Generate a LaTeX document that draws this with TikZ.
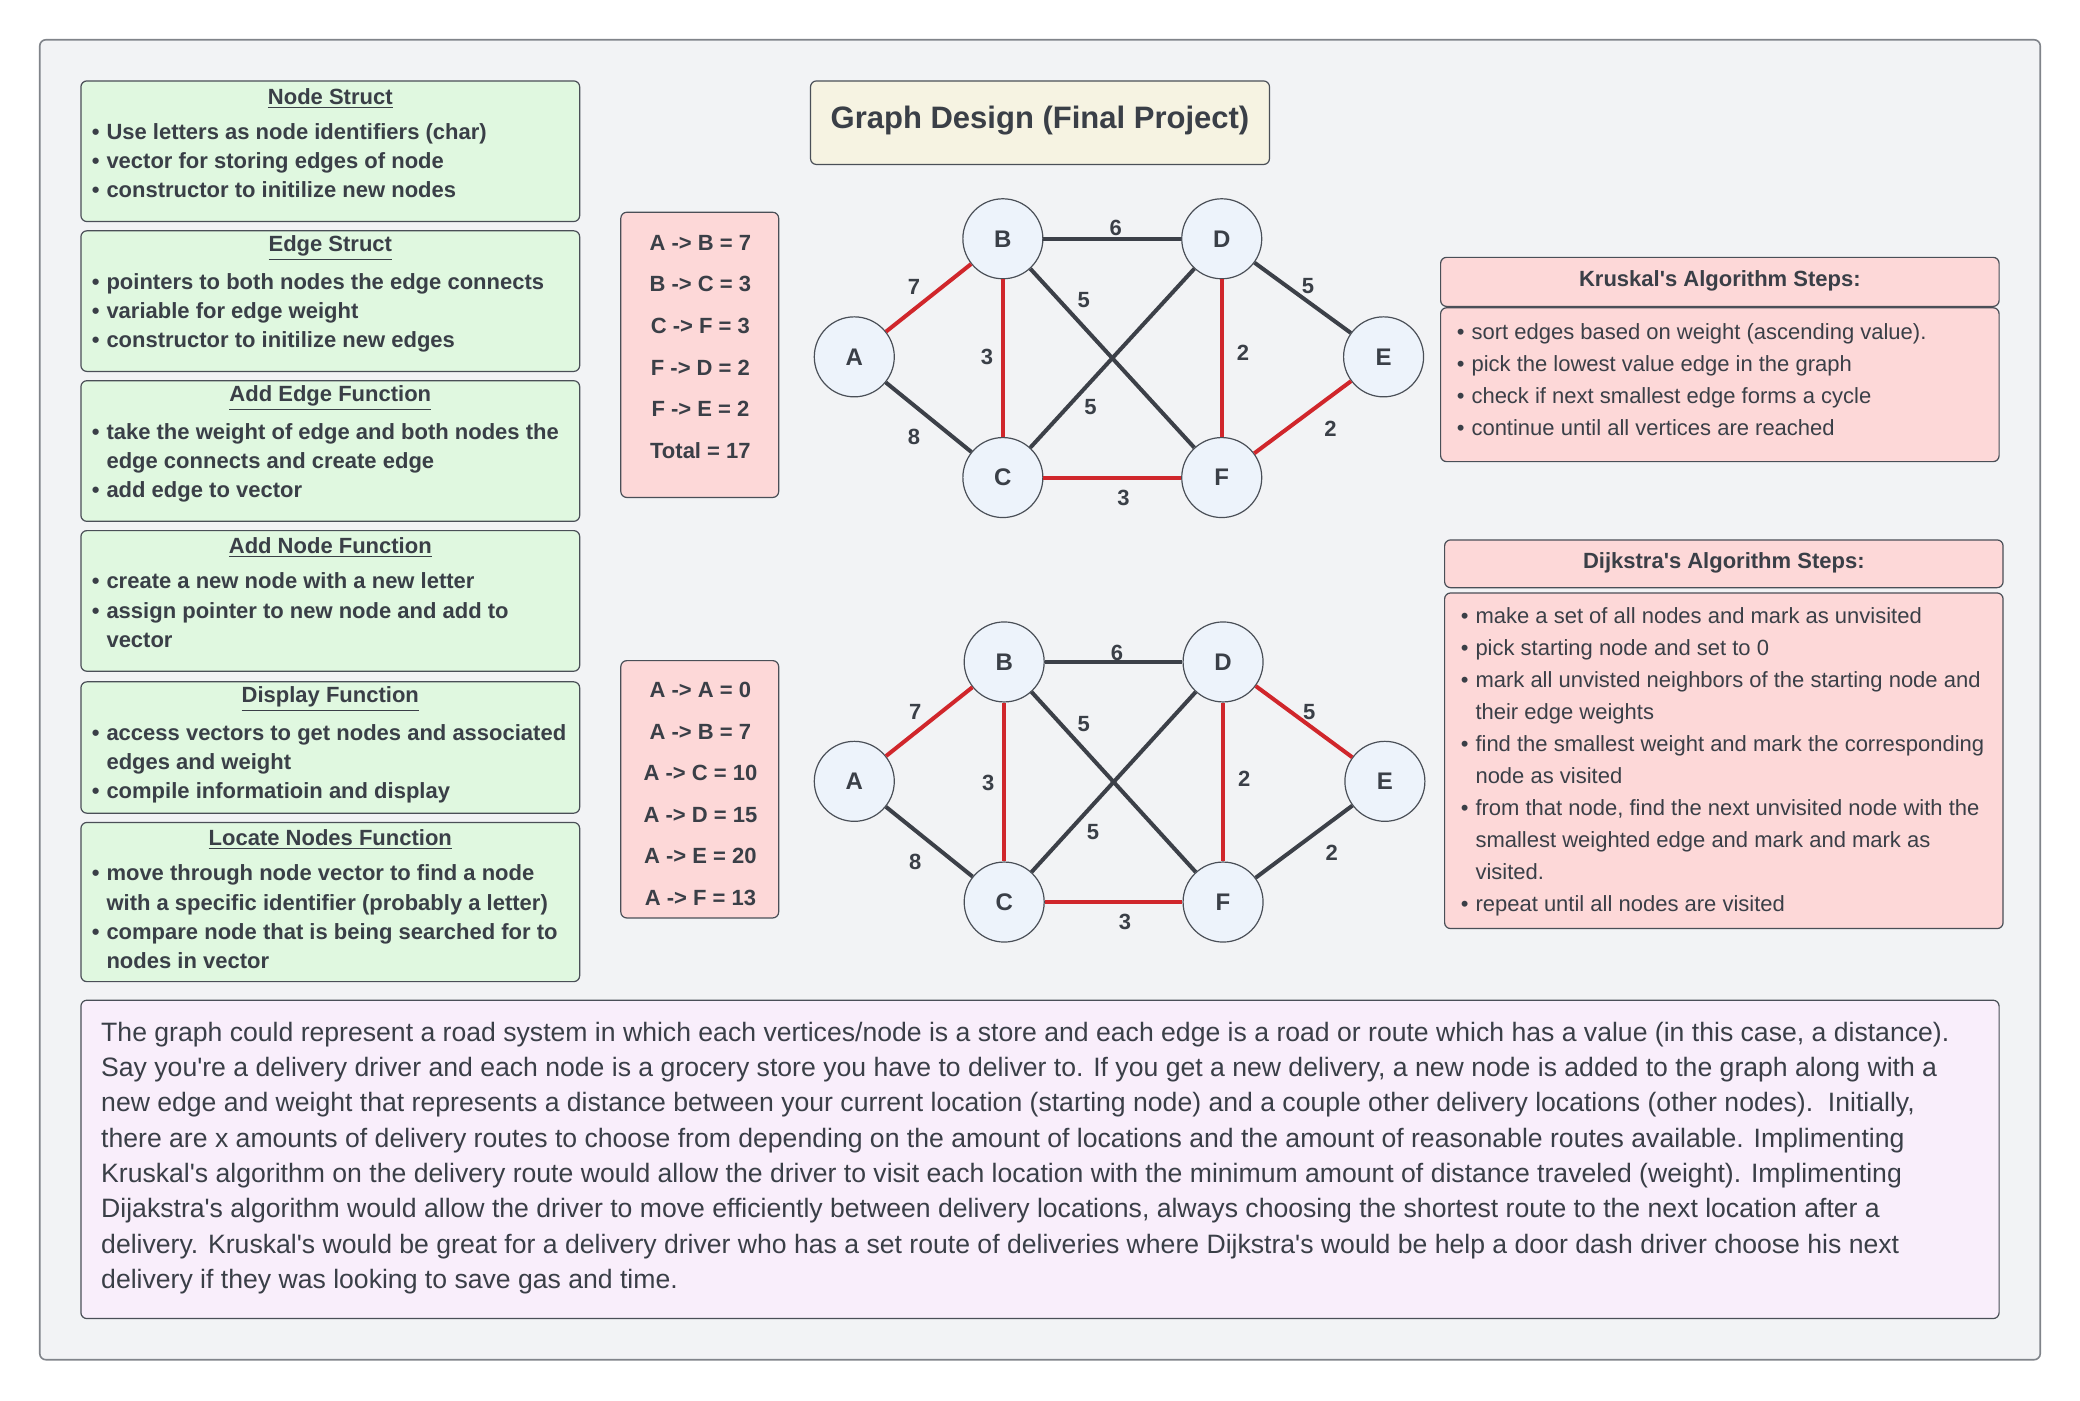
\documentclass[tikz,border=0pt]{standalone}
\usepackage{fontspec}
\setmainfont{Liberation Sans}
\definecolor{frameBg}{HTML}{F2F3F5}
\definecolor{frameLine}{HTML}{80848A}
\definecolor{greenFill}{HTML}{E0F8E0}
\definecolor{pinkFill}{HTML}{FDD8D8}
\definecolor{creamFill}{HTML}{F6F3E2}
\definecolor{lavFill}{HTML}{F9EEFB}
\definecolor{nodeFill}{HTML}{EDF3FB}
\definecolor{edgeRed}{HTML}{D0262B}
\definecolor{edgeDark}{HTML}{3C4048}
\definecolor{txt}{HTML}{3A3F47}
\definecolor{boxLine}{HTML}{4A4F57}
\newcommand{\bl}{\makebox[7.3pt][l]{\textbullet}}
\newcommand{\cl}{\hspace*{7.3pt}}
\newcommand{\aq}{\textquotesingle}
\tikzset{
  greenbox/.style={draw=boxLine, line width=0.6pt, fill=greenFill, rounded corners=3pt},
  pinkbox/.style={draw=boxLine, line width=0.6pt, fill=pinkFill, rounded corners=3pt},
  creambox/.style={draw=boxLine, line width=0.6pt, fill=creamFill, rounded corners=3pt},
  lavbox/.style={draw=boxLine, line width=0.6pt, fill=lavFill, rounded corners=3pt},
  btitle/.style={font=\fontsize{11}{13}\selectfont\bfseries, text=txt, inner sep=0pt},
  blist/.style={font=\fontsize{11}{14.6}\selectfont\bfseries, text=txt, inner sep=0pt, anchor=base west},
  rlist/.style={font=\fontsize{11}{16}\selectfont, text=txt, inner sep=0pt, anchor=base west},
  tbl/.style={font=\fontsize{11}{20.8}\selectfont\bfseries, text=txt, inner sep=0pt, align=center},
  vtx/.style={circle, draw=boxLine, line width=0.6pt, fill=nodeFill, minimum size=40pt, inner sep=0pt, font=\fontsize{12}{14}\selectfont\bfseries, text=txt},
  redge/.style={draw=edgeRed, line width=2pt},
  dedge/.style={draw=edgeDark, line width=2pt},
  wlbl/.style={font=\fontsize{11}{13}\selectfont\bfseries, text=txt, inner sep=0pt},
}
\begin{document}
\begin{tikzpicture}[x=0.66327pt, y=-0.66327pt]
\useasboundingbox (0,0) rectangle (1568,1055.4);
\fill[white] (0,0) rectangle (1568,1055.4);
\draw[draw=frameLine, fill=frameBg, line width=0.8pt, rounded corners=3pt] (30,30) rectangle (1538,1025);

% ---------- left green boxes ----------
\path[greenbox] (61,61) rectangle (437,167);
\node[btitle] (t1) at (249,74) {\underline{Node Struct}};
\node[blist] (l1) at (69,105) {\begin{tabular}[t]{@{}l@{}}\bl Use letters as node identifiers (char)\\ \bl vector for storing edges of node\\ \bl constructor to initilize new nodes\end{tabular}};

\path[greenbox] (61,174) rectangle (437,280);
\node[btitle] (t2) at (249,187) {\underline{Edge Struct}};
\node[blist] (l2) at (69,218) {\begin{tabular}[t]{@{}l@{}}\bl pointers to both nodes the edge connects\\ \bl variable for edge weight\\ \bl constructor to initilize new edges\end{tabular}};

\path[greenbox] (61,287) rectangle (437,393);
\node[btitle] (t3) at (249,300) {\underline{Add Edge Function}};
\node[blist] (l3) at (69,331) {\begin{tabular}[t]{@{}l@{}}\bl take the weight of edge and both nodes the\\ \cl edge connects and create edge\\ \bl add edge to vector\end{tabular}};

\path[greenbox] (61,400) rectangle (437,506);
\node[btitle] (t4) at (249,413) {\underline{Add Node Function}};
\node[blist] (l4) at (69,444) {\begin{tabular}[t]{@{}l@{}}\bl create a new node with a new letter\\ \bl assign pointer to new node and add to\\ \cl vector\end{tabular}};

\path[greenbox] (61,514) rectangle (437,613);
\node[btitle] (t5) at (249,527) {\underline{Display Function}};
\node[blist] (l5) at (69,558) {\begin{tabular}[t]{@{}l@{}}\bl access vectors to get nodes and associated\\ \cl edges and weight\\ \bl compile informatioin and display\end{tabular}};

\path[greenbox] (61,620) rectangle (437,740);
\node[btitle] (t6) at (249,633) {\underline{Locate Nodes Function}};
\node[blist] (l6) at (69,664) {\begin{tabular}[t]{@{}l@{}}\bl move through node vector to find a node\\ \cl with a specific identifier (probably a letter)\\ \bl compare node that is being searched for to\\ \cl nodes in vector\end{tabular}};

% ---------- tables ----------
\path[pinkbox] (468,160) rectangle (587,375);
\node[tbl] (tab1) at (528,261.5) {A -> B = 7\\ B -> C = 3\\ C -> F = 3\\ F -> D = 2\\ F -> E = 2\\ Total = 17};

\path[pinkbox] (468,498) rectangle (587,692);
\node[tbl] (tab2) at (528,598.5) {A -> A = 0\\ A -> B = 7\\ A -> C = 10\\ A -> D = 15\\ A -> E = 20\\ A -> F = 13};

% ---------- title ----------
\path[creambox] (611,61) rectangle (957,124);
\node[font=\fontsize{15.5}{18}\selectfont\bfseries, text=txt] (title) at (784,91) {Graph Design (Final Project)};

% ---------- graph 1 (Kruskal) ----------
\node[vtx] (A1) at (644,269) {A};
\node[vtx] (B1) at (756,180) {B};
\node[vtx] (D1) at (921,180) {D};
\node[vtx] (C1) at (756,360) {C};
\node[vtx] (F1) at (921,360) {F};
\node[vtx] (E1) at (1043,269) {E};
\draw[redge] (A1) -- (B1);
\draw[dedge] (A1) -- (C1);
\draw[dedge] (B1) -- (D1);
\draw[redge] (B1) -- (C1);
\draw[dedge] (B1) -- (F1);
\draw[dedge] (C1) -- (D1);
\draw[redge] (D1) -- (F1);
\draw[dedge] (D1) -- (E1);
\draw[redge] (C1) -- (F1);
\draw[redge] (F1) -- (E1);
\node[wlbl] (w1a) at (689,216) {7};
\node[wlbl] (w1b) at (689,329) {8};
\node[wlbl] (w1c) at (841,172) {6};
\node[wlbl] (w1d) at (744,269) {3};
\node[wlbl] (w1e) at (817,226) {5};
\node[wlbl] (w1f) at (822,307) {5};
\node[wlbl] (w1g) at (937,266) {2};
\node[wlbl] (w1h) at (986,216) {5};
\node[wlbl] (w1i) at (1003,323) {2};
\node[wlbl] (w1j) at (847,375) {3};

% ---------- graph 2 (Dijkstra) ----------
\node[vtx] (A2) at (644,589) {A};
\node[vtx] (B2) at (757,499) {B};
\node[vtx] (D2) at (922,499) {D};
\node[vtx] (C2) at (757,680) {C};
\node[vtx] (F2) at (922,680) {F};
\node[vtx] (E2) at (1044,589) {E};
\draw[redge] (A2) -- (B2);
\draw[dedge] (A2) -- (C2);
\draw[dedge] (B2) -- (D2);
\draw[redge] (B2) -- (C2);
\draw[dedge] (B2) -- (F2);
\draw[dedge] (C2) -- (D2);
\draw[redge] (D2) -- (F2);
\draw[redge] (D2) -- (E2);
\draw[redge] (C2) -- (F2);
\draw[dedge] (F2) -- (E2);
\node[wlbl] (w2a) at (690,537) {7};
\node[wlbl] (w2b) at (690,650) {8};
\node[wlbl] (w2c) at (842,492) {6};
\node[wlbl] (w2d) at (745,590) {3};
\node[wlbl] (w2e) at (817,546) {5};
\node[wlbl] (w2f) at (824,627) {5};
\node[wlbl] (w2g) at (938,587) {2};
\node[wlbl] (w2h) at (987,537) {5};
\node[wlbl] (w2i) at (1004,643) {2};
\node[wlbl] (w2j) at (848,695) {3};

% ---------- Kruskal steps ----------
\path[pinkbox] (1086,194) rectangle (1507,231);
\node[btitle] (kh) at (1296.5,212) {Kruskal\aq s Algorithm Steps:};
\path[pinkbox] (1086,232) rectangle (1507,348);
\node[rlist] (kl) at (1098,256) {\begin{tabular}[t]{@{}l@{}}\bl sort edges based on weight (ascending value).\\ \bl pick the lowest value edge in the graph\\ \bl check if next smallest edge forms a cycle\\ \bl continue until all vertices are reached\end{tabular}};

% ---------- Dijkstra steps ----------
\path[pinkbox] (1089,407) rectangle (1510,443);
\node[btitle] (dh) at (1299.5,424) {Dijkstra\aq s Algorithm Steps:};
\path[pinkbox] (1089,447) rectangle (1510,700);
\node[rlist] (dl) at (1101,470) {\begin{tabular}[t]{@{}l@{}}\bl make a set of all nodes and mark as unvisited\\ \bl pick starting node and set to 0\\ \bl mark all unvisted neighbors of the starting node and\\ \cl their edge weights\\ \bl find the smallest weight and mark the corresponding\\ \cl node as visited\\ \bl from that node, find the next unvisited node with the\\ \cl smallest weighted edge and mark and mark as\\ \cl visited.\\ \bl repeat until all nodes are visited\end{tabular}};

% ---------- bottom paragraph ----------
\path[lavbox] (61,754) rectangle (1507,994);
\node[font=\fontsize{13.3}{17.64}\selectfont, text=txt, inner sep=0pt, anchor=base west] (para) at (76,785) {\begin{tabular}[t]{@{}l@{}}The graph could represent a road system in which each vertices/node is a store and each edge is a road or route which has a value (in this case, a distance).\\
Say you\aq re a delivery driver and each node is a grocery store you have to deliver to. If you get a new delivery, a new node is added to the graph along with a\\
new edge and weight that represents a distance between your current location (starting node) and a couple other delivery locations (other nodes).\ \ Initially,\\
there are x amounts of delivery routes to choose from depending on the amount of locations and the amount of reasonable routes available. Implimenting\\
Kruskal\aq s algorithm on the delivery route would allow the driver to visit each location with the minimum amount of distance traveled (weight). Implimenting\\
Dijakstra\aq s algorithm would allow the driver to move efficiently between delivery locations, always choosing the shortest route to the next location after a\\
delivery. Kruskal\aq s would be great for a delivery driver who has a set route of deliveries where Dijkstra\aq s would be help a door dash driver choose his next\\
delivery if they was looking to save gas and time.\end{tabular}};
\end{tikzpicture}
\end{document}
